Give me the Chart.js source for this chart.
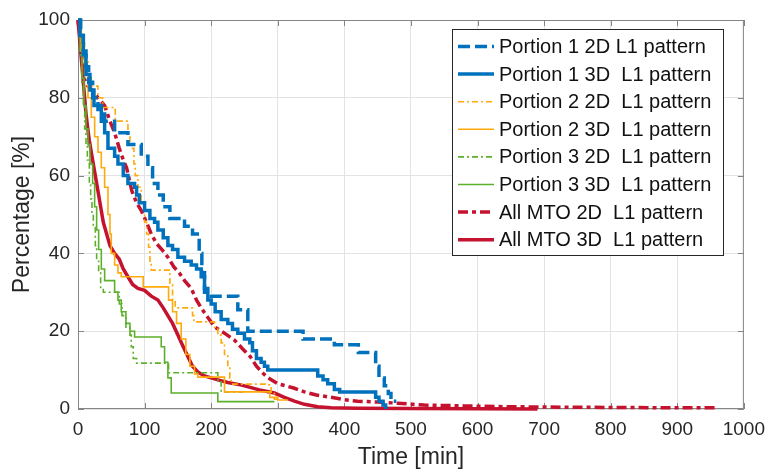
<!DOCTYPE html>
<html><head><meta charset="utf-8">
<script src="https://cdn.jsdelivr.net/npm/chart.js@4/dist/chart.umd.min.js"></script>
<style>html,body{margin:0;padding:0;background:#fff}canvas{display:block}</style>
</head><body>
<canvas id="c" width="774" height="471"></canvas>
<script>
// ---- data (time in min, percentage %) ----
const seriesNames = ["Portion 1 2D L1 pattern","Portion 1 3D  L1 pattern","Portion 2 2D  L1 pattern","Portion 2 3D  L1 pattern","Portion 3 2D  L1 pattern","Portion 3 3D  L1 pattern","All MTO 2D  L1 pattern","All MTO 3D  L1 pattern"];
const xTicks = [0,100,200,300,400,500,600,700,800,900,1000];
const yTicks = [0,20,40,60,80,100];

const p1_2d_t = [0,4,8,12,16,22,30,40,55,75,95,105,112,120,128,138,160,172,182,186,190,200,235,240,255,333,338,378,385,418,421,443,447,452,460,466,470,478];
const p1_2d_v = [100,96,92,88,84,80,77,74,71,68,65,62,58,55,52,49,47,45,40,35,30,29,29,25.5,20,20,18,18,16.5,16.5,14.5,14.5,11,8,6,4,2,2];

const p1_3d_t = [0,3,8,12,18,24,35,40,45,55,60,68,75,85,88,92,100,108,115,120,128,135,142,150,160,170,178,185,190,195,200,206,215,225,232,240,250,258,262,268,275,280,285,354,360,368,375,385,393,443,447,452,458,462];
const p1_3d_v = [100,96,91,86,82,78,74,71,67,65,63,60,58,57,55,53,51,49,48,46,44,42,41,39,38,37,36,34,31,28,27,25,23,22,20.5,19.5,18,17,15,13,12,11,10,10,8.5,7.5,6.5,5,4.4,4.4,3,2,1,0];

const p2_2d_t = [0,5,10,15,20,30,37,55,56,74,75,78,82,84,86,90,95,100,103,106,108,110,136,138,142,146,170,172,174,200,205,210,215,220,225,228,230,285,290,295,300];
const p2_2d_v = [100,94,90,86,83,80,77.5,77,74,74,70,68,67,63,60,57,53,48,45,41.6,38,35.7,35.7,32,28,26,26,24,22.4,22.4,21,19,17,14,11,8,6.4,6.2,4,2.5,2.3];

const p2_3d_t = [0,5,10,15,20,25,30,35,40,45,48,50,55,60,65,96,98,132,136,142,148,155,162,168,175,180,215,220,284,288,300,315];
const p2_3d_v = [100,92,86,80,75,70,66,62,57,50,45,40,37,35,34,34,31.4,31.4,28,25,22,18,14,11,9,8.2,8.2,4.4,4.4,3,2.3,2.3];

const p3_2d_t = [0,2,4,6,8,10,12,14,17,19,21,23,26,28,31,34,38,58,62,66,72,78,80,83,88,132,136,206,210,215,248];
const p3_2d_v = [100,95,90,84,78,72,68,64,58,54,50,47,42,38,35,31,30,30,27,24,21,19,16,13,11.8,11.8,9.3,9.3,7,4.4,4.4];

const p3_3d_t = [0,3,6,9,12,15,18,22,25,28,31,35,40,52,55,60,65,72,78,85,117,125,130,135,140,207,210,295];
const p3_3d_v = [100,92,85,78,72,68,63,58,52,46,41,36,33,33,30,28,25,22,20,18.5,18.5,16,12,8,4.1,4.1,1.9,1.9];

const all_2d_t = [0,3,6,9,15,21,30,40,48,55,62,68,73,81,88,95,103,110,118,126,135,144,152,160,170,178,185,195,206,220,235,247,259,268,276,284,300,324,340,358,380,400,420,450,480,520,580,640,700,800,900,960];
const all_2d_v = [100,96,90,85,83,82,80,78,74,71,67,64,62,56,53,51,48,45,42.5,41,39,36.5,35,33,31,28,26,23.5,21,19.5,17.7,15.5,13.4,11,9.5,8.2,6.5,5.4,4.4,3.6,3,2.4,2,1.8,1.5,1,0.8,0.6,0.5,0.4,0.3,0.3];

const all_3d_t = [0,2,4,6,8,10,12,14,17,20,23,26,30,34,38,43,48,55,62,68,75,82,90,100,110,120,128,135,142,150,158,165,172,180,190,200,210,225,244,260,275,295,310,325,340,360,380,420,500,600,690];
const all_3d_v = [100,96,92,88,84,80,76,73,69,66,63,60,56,52,48,45,42,40,38.5,36,34,32,31,30.5,29,28,26,24,22,19,16,13.5,11,9.5,8.5,8,7.5,6.8,6.2,5.5,4.8,4.1,3,2,1.2,0.6,0.3,0.2,0.1,0.05,0];

const BLUE='#0072BD', ORANGE='#FFA90A', GREEN='#5DB02A', RED='#C4122F';
const FONT='"Liberation Sans", Arial, sans-serif';

function pts(t,v){return t.map((x,i)=>({x:x,y:v[i]}));}
const styles = [
  {c:BLUE, w:3.5, d:[12,5], st:'before'},
  {c:BLUE, w:3.5, d:[], st:'before'},
  {c:ORANGE, w:1.6, d:[6,3,2,3], st:'before'},
  {c:ORANGE, w:1.6, d:[], st:'before'},
  {c:GREEN, w:1.6, d:[6,3,2,3], st:'before'},
  {c:GREEN, w:1.6, d:[], st:'before'},
  {c:RED, w:3.5, d:[10,4,4,4], st:false},
  {c:RED, w:3.5, d:[], st:false}
];
const seriesData = [pts(p1_2d_t,p1_2d_v),pts(p1_3d_t,p1_3d_v),pts(p2_2d_t,p2_2d_v),pts(p2_3d_t,p2_3d_v),pts(p3_2d_t,p3_2d_v),pts(p3_3d_t,p3_3d_v),pts(all_2d_t,all_2d_v),pts(all_3d_t,all_3d_v)];

const datasets = seriesData.map((d,i)=>({
  label: seriesNames[i], data:d, borderColor:styles[i].c, backgroundColor:styles[i].c,
  borderWidth:styles[i].w, borderDash:styles[i].d, stepped:styles[i].st,
  pointRadius:0, fill:false, tension:0, clip:4
}));

const framePlugin = {
  id:'frame',
  beforeDatasetsDraw(chart){
    const {ctx, chartArea:a, scales} = chart;
    ctx.save();
    ctx.strokeStyle='#858585'; ctx.lineWidth=1;
    ctx.strokeRect(a.left+0.5, a.top+0.5, a.right-a.left-1, a.bottom-a.top-1);
    ctx.beginPath();
    xTicks.forEach(v=>{const x=Math.round(scales.x.getPixelForValue(v))+0.5;
      ctx.moveTo(x,a.bottom); ctx.lineTo(x,a.bottom-6); ctx.moveTo(x,a.top); ctx.lineTo(x,a.top+6);});
    yTicks.forEach(v=>{const y=Math.round(scales.y.getPixelForValue(v))+0.5;
      ctx.moveTo(a.left,y); ctx.lineTo(a.left+6,y); ctx.moveTo(a.right,y); ctx.lineTo(a.right-6,y);});
    ctx.stroke();
    ctx.restore();
  }
};

const legendPlugin = {
  id:'boxlegend',
  afterDraw(chart){
    const ctx = chart.ctx;
    const L=452, T=29, W=271, H=226, row=27.6, y0=46.5;
    ctx.save();
    ctx.fillStyle='#fff'; ctx.fillRect(L,T,W,H);
    ctx.strokeStyle='#262626'; ctx.lineWidth=1; ctx.strokeRect(L+0.5,T+0.5,W,H);
    ctx.font='20px '+FONT; ctx.textBaseline='middle'; ctx.textAlign='left';
    seriesNames.forEach((n,i)=>{
      const y = y0 + i*row;
      const s = styles[i];
      ctx.strokeStyle=s.c; ctx.lineWidth=s.w; ctx.setLineDash(s.d);
      ctx.beginPath(); ctx.moveTo(458,y); ctx.lineTo(494,y); ctx.stroke();
      ctx.setLineDash([]);
      ctx.fillStyle='#111'; ctx.fillText(n, 499, y+1);
    });
    ctx.restore();
  }
};

new Chart(document.getElementById('c').getContext('2d'), {
  type:'line',
  data:{datasets:datasets},
  options:{
    responsive:false, animation:false, devicePixelRatio:1,
    layout:{padding:{top:20,right:21,left:0,bottom:0}},
    plugins:{legend:{display:false}, tooltip:{enabled:false}},
    scales:{
      x:{type:'linear', min:0, max:1000,
        afterBuildTicks(s){s.ticks = xTicks.map(v=>({value:v}));},
        ticks:{font:{family:FONT,size:19}, color:'#262626', padding:9, maxRotation:0, autoSkip:false, callback:v=>String(v)},
        grid:{color:'#e3e3e3', drawTicks:false}, border:{display:false},
        title:{display:true, text:'Time [min]', font:{family:FONT,size:23}, color:'#262626', padding:{top:0,bottom:0}},
        afterFit(s){s.height=62;}
      },
      y:{type:'linear', min:0, max:100,
        afterBuildTicks(s){s.ticks = yTicks.map(v=>({value:v}));},
        ticks:{font:{family:FONT,size:19}, color:'#262626', padding:8, callback:v=>String(v)},
        grid:{color:'#e3e3e3', drawTicks:false}, border:{display:false},
        title:{display:true, text:'Percentage [%]', font:{family:FONT,size:23}, color:'#262626', padding:{top:9,bottom:0}},
        afterFit(s){s.width=78;}
      }
    }
  },
  plugins:[framePlugin, legendPlugin]
});
</script>
</body></html>
